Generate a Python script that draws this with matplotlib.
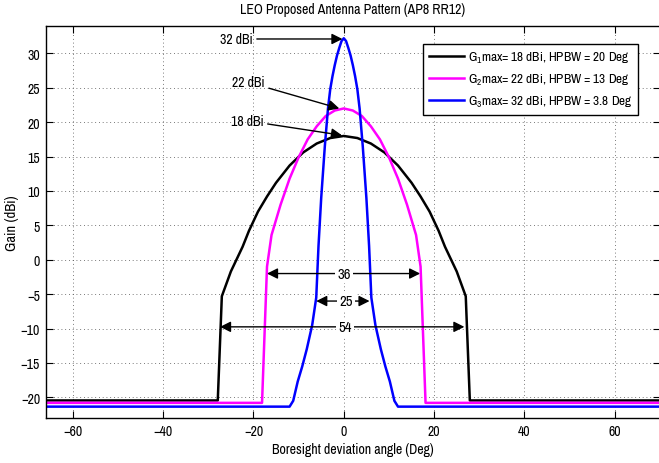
import numpy as np
import matplotlib
matplotlib.use("Agg")
import matplotlib.pyplot as plt
from matplotlib import font_manager as fm

# the reference uses a narrow Helvetica; take a narrow face if one is installed
narrow = None
for f in fm.fontManager.ttflist:
    if 'Narrow' in f.name or 'Condensed' in f.name:
        narrow = (f.name, 'normal')
        break
    if f.name in ('DejaVu Sans', 'Liberation Sans') and str(f.stretch) in ('condensed', '300', 'semi-condensed'):
        narrow = (f.name, 'condensed')
if narrow:
    plt.rcParams['font.family'] = [narrow[0], 'DejaVu Sans']
    plt.rcParams['font.stretch'] = narrow[1]
    fs, fs_leg = 10, 9.5
else:
    plt.rcParams['font.family'] = ['Liberation Sans', 'DejaVu Sans']
    fs, fs_leg = 9, 8.3
plt.rcParams['mathtext.fontset'] = 'custom'
plt.rcParams['mathtext.rm'] = plt.rcParams['font.family'][0]
plt.rcParams['mathtext.it'] = plt.rcParams['font.family'][0]

# half patterns (positive side); mirrored below
x_g1 = [0, 3, 6, 9, 12, 15, 17, 19, 21, 22.4, 25, 27, 27.9, 70]
g_g1 = [18, 17.7, 16.9, 15.6, 13.7, 11.2, 9.2, 7.0, 4.2, 1.9, -1.7, -5.3, -20.45, -20.45]

x_g2 = [0, 2, 4, 6, 8, 10, 12, 14, 16, 17, 18.1, 70]
g_g2 = [22, 21.7, 20.9, 19.4, 17.5, 14.9, 11.8, 8.0, 3.6, -1.0, -20.8, -20.8]

x_g3 = [0, 0.5, 1, 1.5, 2, 2.5, 3, 3.5, 4.2, 5, 5.6, 6.1, 7, 8.2, 9.2, 10.2, 11.2, 12, 70]
g_g3 = [32.2, 31.8, 30.8, 29.7, 28.3, 26.7, 24.8, 22, 16.5, 9, 2, -5.5, -9.5, -13, -15.5, -17.7, -20.5, -21.35, -21.35]

labels = ['G$_1$max= 18 dBi, HPBW = 20 Deg',
          'G$_2$max= 22 dBi, HPBW = 13 Deg',
          'G$_3$max= 32 dBi, HPBW = 3.8 Deg']
colors = ['black', '#ff00ff', '#0000ff']

peak_text = ['32 dBi', '22 dBi', '18 dBi']
peak_text_xy = [(-23.8, 32.1), (-21.1, 25.8), (-21.4, 20.2)]
peak_tip_xy = [(-0.3, 32.1), (-1.0, 22.0), (-0.4, 18.1)]

width_text = ['36', '25', '54']
width_y = [-2.0, -6.0, -9.75]
width_left = [-17.0, -6.1, -27.4]
width_right = [16.9, 5.7, 26.7]
width_text_x = [0.1, 0.5, 0.3]


def mirror(x, g):
    x = np.asarray(x, float)
    g = np.asarray(g, float)
    return np.concatenate([-x[::-1], x[1:]]), np.concatenate([g[::-1], g[1:]])


fig = plt.figure(figsize=(6.59, 4.64), dpi=100)
ax = fig.add_axes([0.0693, 0.097, 0.9322, 0.845])

for (xs, gs), c, lab in zip([(x_g1, g_g1), (x_g2, g_g2), (x_g3, g_g3)], colors, labels):
    xx, gg = mirror(xs, gs)
    ax.plot(xx, gg, color=c, lw=1.8, label=lab)

ax.set_xlim(-66, 70)
ax.set_ylim(-23, 34)
ax.set_xticks(np.arange(-60, 61, 20))
ax.set_yticks(np.arange(-20, 31, 5))
ax.grid(True, color='0.3', linestyle=(0, (1, 3.5)), lw=0.6)
ax.tick_params(direction='in', top=True, right=True, length=5, width=0.8, labelsize=fs, pad=4)
for s in ax.spines.values():
    s.set_linewidth(1.0)

ax.set_title('LEO Proposed Antenna Pattern (AP8 RR12)', fontsize=fs, pad=9)
ax.set_xlabel('Boresight deviation angle (Deg)', fontsize=fs, labelpad=3)
ax.set_ylabel('Gain (dBi)', fontsize=fs + 0.5, labelpad=1)

for t, xy, tip in zip(peak_text, peak_text_xy, peak_tip_xy):
    ax.annotate(t, xy=tip, xytext=xy, ha='center', va='center', fontsize=fs,
                arrowprops=dict(arrowstyle='-|>', color='k', lw=1.0, mutation_scale=16,
                                shrinkA=1, shrinkB=0))

for t, y, xl, xr, xt in zip(width_text, width_y, width_left, width_right, width_text_x):
    ax.annotate('', xy=(xl, y), xytext=(xr, y),
                arrowprops=dict(arrowstyle='<|-|>', color='k', lw=1.0, mutation_scale=16,
                                shrinkA=0, shrinkB=0))
    ax.text(xt, y, t, ha='center', va='center', fontsize=fs + 0.5,
            bbox=dict(facecolor='white', edgecolor='none', pad=1.5))

leg = ax.legend(loc='upper left', bbox_to_anchor=(0.614, 0.954), borderaxespad=0,
                fancybox=False, framealpha=1, edgecolor='black', fontsize=fs_leg,
                handlelength=2.65, handletextpad=0.3, labelspacing=0.52, borderpad=0.45)
leg.get_frame().set_linewidth(1.0)

fig.savefig('out.png', dpi=100)
